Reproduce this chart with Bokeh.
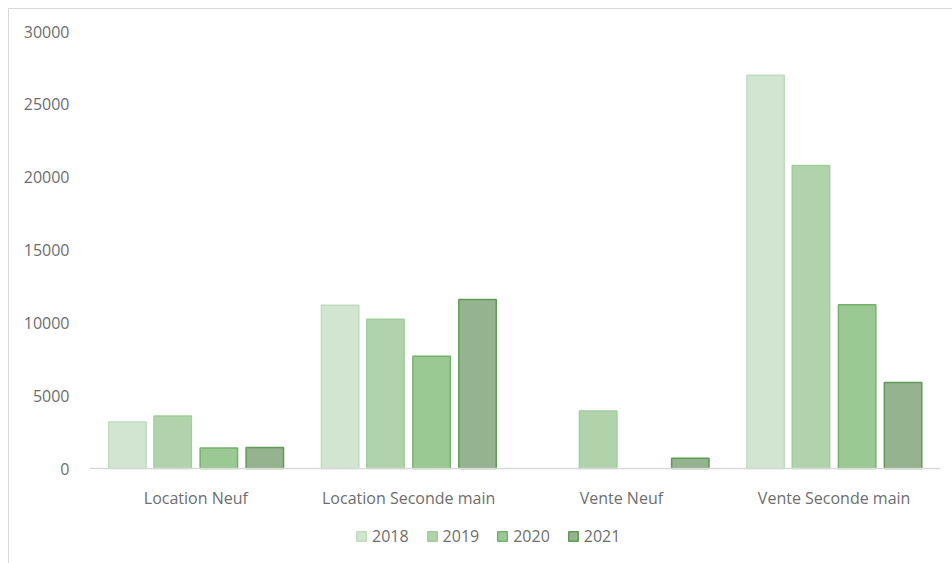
from bokeh.plotting import figure
from bokeh.models import FactorRange, Range1d, Legend, LegendItem, ColumnDataSource
from bokeh.transform import dodge
from bokeh.embed import file_html
from bokeh.resources import INLINE

categories = ["Location Neuf", "Location Seconde main", "Vente Neuf", "Vente Seconde main"]
years = ["2018", "2019", "2020", "2021"]
v2018 = [3200, 11200, 0, 27000]
v2019 = [3600, 10250, 3950, 20800]
v2020 = [1400, 7700, 0, 11250]
v2021 = [1450, 11600, 700, 5900]
y_ticks = [0, 5000, 10000, 15000, 20000, 25000, 30000]

series = [v2018, v2019, v2020, v2021]
fills = ["#d2e5d1", "#b0d3ab", "#9bc994", "#94b38e"]
lines = ["#c0dcbe", "#a0cd9b", "#74b26b", "#609a57"]
offsets = [-0.322, -0.109, 0.108, 0.324]

FONT = "Open Sans"
GREY = "#6e6e6e"

# layout (screen px): frame top 30, zero line 467, frame bottom 560
Y_MAX = 30000
y_min = -(560 - 467) / (467 - 30) * Y_MAX

p = figure(
    width=944, height=555,
    x_range=FactorRange(*categories, range_padding=0),
    y_range=Range1d(y_min, Y_MAX),
    output_backend="svg", toolbar_location=None,
    min_border_left=80, min_border_right=13, min_border_top=22, min_border_bottom=3,
)
p.margin = (8, 0, 0, 8)
p.styles = {"border-top": "1px solid #d9d9d9", "border-left": "1px solid #d9d9d9"}

items = []
for yr, vals, off, fc, lc in zip(years, series, offsets, fills, lines):
    cats = [c for c, v in zip(categories, vals) if v > 0]
    tops = [v for v in vals if v > 0]
    src = ColumnDataSource(dict(cat=cats, top=tops))
    r = p.vbar(x=dodge("cat", off, range=p.x_range), top="top", width=0.176,
               source=src, fill_color=fc, line_color=lc, line_width=1.5)
    items.append(LegendItem(label=yr, renderers=[r]))

p.xgrid.visible = False
p.ygrid.visible = False
p.outline_line_color = None

p.yaxis.ticker = y_ticks
p.yaxis.axis_line_color = None
p.yaxis.major_tick_line_color = None
p.yaxis.minor_tick_line_color = None
p.yaxis.major_label_text_color = GREY
p.yaxis.major_label_text_font = FONT
p.yaxis.major_label_text_font_size = "16px"
p.yaxis.major_label_standoff = 14

p.xaxis.fixed_location = 0
p.xaxis.axis_line_color = "#d9d9d9"
p.xaxis.axis_line_width = 1.5
p.xaxis.major_tick_line_color = None
p.xaxis.minor_tick_line_color = None
p.xaxis.major_label_text_color = GREY
p.xaxis.major_label_text_font = FONT
p.xaxis.major_label_text_font_size = "16px"
p.xaxis.major_label_standoff = 12

legend = Legend(items=items, orientation="horizontal", location=(266, 14))
legend.border_line_color = None
legend.background_fill_alpha = 0
legend.label_text_color = GREY
legend.label_text_font = FONT
legend.label_text_font_size = "16px"
legend.glyph_width = 12
legend.glyph_height = 12
legend.label_standoff = 5
legend.spacing = 17
legend.padding = 0
legend.margin = 0
p.add_layout(legend)

open("out.html", "w").write(file_html(p, INLINE))
